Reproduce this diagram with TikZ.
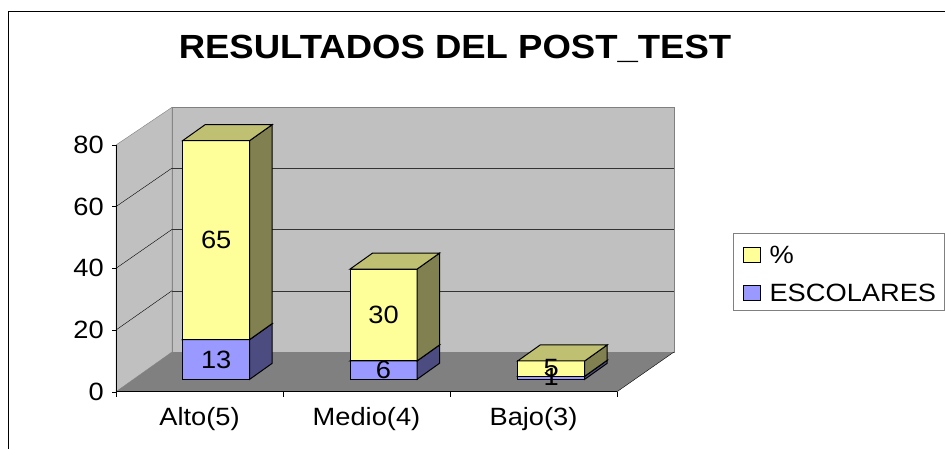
\documentclass[tikz,border=0pt]{standalone}
\usepackage{fontspec}
\setmainfont{Liberation Sans}

\definecolor{amarillo}{HTML}{FFFF99}
\definecolor{amarilloLado}{HTML}{808050}
\definecolor{amarilloTapa}{HTML}{C0C073}
\definecolor{azul}{HTML}{9999FF}
\definecolor{azulLado}{HTML}{4C4C80}
\definecolor{azulTapa}{HTML}{7373BF}
\definecolor{pared}{HTML}{C0C0C0}
\definecolor{piso}{HTML}{808080}

% segmento de barra: #1 borde izq., #2 base, #3 valor, #4 frente, #5 lado, #6 tapa
\newcommand{\segmento}[6]{%
  \filldraw[barra, fill=#4] (#1,{379.3-3.06*(#2)}) rectangle ++(67,{-3.06*(#3)});
  \filldraw[barra, fill=#5] (#1+67,{379.3-3.06*(#2)}) -- ++(22.5,-16) -- ++(0,{-3.06*(#3)}) -- ++(-22.5,16) -- cycle;
  \filldraw[barra, fill=#6] (#1,{379.3-3.06*(#2+#3)}) -- ++(67,0) -- ++(22.5,-16) -- ++(-67,0) -- cycle;
}

\begin{document}
\begin{tikzpicture}[x=1pt, y=-1pt,
    barra/.style={line width=1pt, draw=black},
    texto/.style={font=\fontsize{25}{30}\selectfont, inner sep=0pt, xscale=1.09},
    titulo/.style={font=\fontsize{33.5}{40}\selectfont\bfseries, inner sep=0pt, xscale=1.09}]
        \useasboundingbox (0,0) rectangle (945,449);

        % Marco y titulo
        \draw[line width=1pt] (8,449) -- (8,12) -- (945,12);
        \node[titulo] (tit) at (455,49) {RESULTADOS DEL POST\_TEST};

        % Paredes y piso
        \filldraw[fill=pared, draw=piso] (172,352) rectangle (674,107.3);
        \filldraw[fill=pared, draw=piso] (116,391.7) -- (116,145) -- (172,107.3) -- (172,352) -- cycle;
        \fill[piso] (116,391.7) -- (172,352) -- (674,352) -- (617,391.7) -- cycle;
        \draw[black!80] (172,290.7) -- (674,290.7);
        \draw[black!80] (172,229.4) -- (674,229.4);
        \draw[black!80] (172,168.1) -- (674,168.1);
        \draw (116,330) -- (172,290.7);
        \draw (116,268.3) -- (172,229.4);
        \draw (116,206.6) -- (172,168.1);
        \draw (617,391.7) -- (674,352);

        % Ejes
        \draw[line width=0.8pt] (116,145) -- (116,391.7) -- (617,391.7);
        \draw (112,145) -- (116,145);
        \draw (112,206.6) -- (116,206.6);
        \draw (112,268.3) -- (116,268.3);
        \draw (112,330) -- (116,330);
        \draw (112,391.7) -- (116,391.7);
        \draw (116,391.7) -- (116,397);
        \draw (283,391.7) -- (283,397);
        \draw (450,391.7) -- (450,397);
        \draw (617,391.7) -- (617,397);
        \node[texto, anchor=east] (e0) at (104,391.7) {0};
        \node[texto, anchor=east] (e20) at (104,330) {20};
        \node[texto, anchor=east] (e40) at (104,268.3) {40};
        \node[texto, anchor=east] (e60) at (104,206.6) {60};
        \node[texto, anchor=east] (e80) at (104,145) {80};
        \node[texto, anchor=base] (alto) at (199.5,425) {Alto(5)};
        \node[texto, anchor=base] (medio) at (366.5,425) {Medio(4)};
        \node[texto, anchor=base] (bajo) at (533.5,425) {Bajo(3)};

        % Barras
        \segmento{182.7}{0}{13}{azul}{azulLado}{azulTapa}
        \segmento{182.7}{13}{65}{amarillo}{amarilloLado}{amarilloTapa}
        \segmento{350}{0}{6}{azul}{azulLado}{azulTapa}
        \segmento{350}{6}{30}{amarillo}{amarilloLado}{amarilloTapa}
        \segmento{517.7}{0}{1}{azul}{azulLado}{azulTapa}
        \segmento{517.7}{1}{5}{amarillo}{amarilloLado}{amarilloTapa}

        % Valores
        \node[texto] (v65) at (216.2,240) {65};
        \node[texto] (v13) at (216.2,359.5) {13};
        \node[texto] (v30) at (383.5,315) {30};
        \node[texto] (v6) at (383.5,370) {6};
        \node[texto] (v5) at (551.2,368.5) {5};
        \node[texto] (v1) at (551.2,377) {1};

        % Leyenda
        \filldraw[fill=white, draw=piso, line width=1pt] (733.7,233.3) rectangle (944.5,310);
        \filldraw[barra, fill=amarillo] (743.7,247.7) rectangle (760,262.3);
        \filldraw[barra, fill=azul] (743.7,285.3) rectangle (760,300);
        \node[texto, anchor=west] (lporc) at (769.3,254.5) {\%};
        \node[texto, anchor=west] (lesc) at (769.3,292.5) {ESCOLARES};
    \end{tikzpicture}
\end{document}
